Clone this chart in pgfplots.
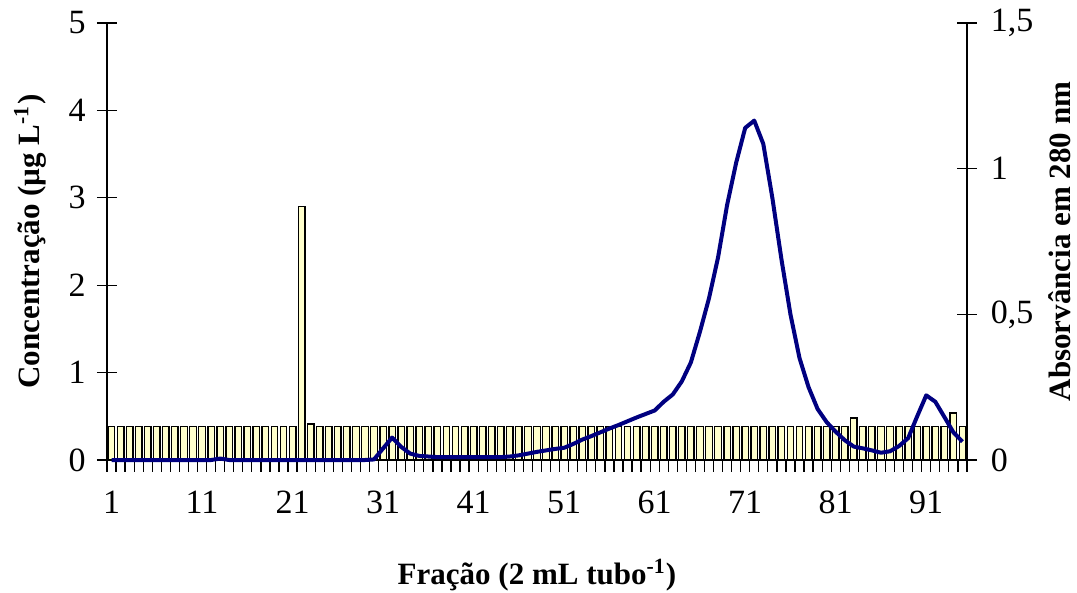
\documentclass[border=0pt]{standalone}
\usepackage{fontspec}
\setmainfont{Liberation Serif}
\usepackage{pgfplots}
\usepackage{pgfplotstable}
\pgfplotsset{compat=1.18}
\definecolor{barfill}{RGB}{255,255,204}
\definecolor{navyline}{RGB}{0,0,128}

\pgfplotstableread{
x c a
1 0.38 0
2 0.38 0
3 0.38 0
4 0.38 0
5 0.38 0
6 0.38 0
7 0.38 0
8 0.38 0
9 0.38 0
10 0.38 0
11 0.38 0
12 0.38 0
13 0.38 0.005
14 0.38 0
15 0.38 0
16 0.38 0
17 0.38 0
18 0.38 0
19 0.38 0
20 0.38 0
21 0.38 0
22 2.9 0
23 0.41 0
24 0.38 0
25 0.38 0
26 0.38 0
27 0.38 0
28 0.38 0
29 0.38 0
30 0.38 0.002
31 0.38 0.04
32 0.38 0.077
33 0.38 0.045
34 0.38 0.022
35 0.38 0.014
36 0.38 0.012
37 0.38 0.01
38 0.38 0.01
39 0.38 0.01
40 0.38 0.01
41 0.38 0.01
42 0.38 0.01
43 0.38 0.01
44 0.38 0.01
45 0.38 0.012
46 0.38 0.016
47 0.38 0.022
48 0.38 0.028
49 0.38 0.033
50 0.38 0.038
51 0.38 0.042
52 0.38 0.055
53 0.38 0.07
54 0.38 0.082
55 0.38 0.095
56 0.38 0.108
57 0.38 0.12
58 0.38 0.133
59 0.38 0.146
60 0.38 0.158
61 0.38 0.17
62 0.38 0.2
63 0.38 0.225
64 0.38 0.27
65 0.38 0.335
66 0.38 0.44
67 0.38 0.555
68 0.38 0.695
69 0.38 0.875
70 0.38 1.02
71 0.38 1.14
72 0.38 1.165
73 0.38 1.085
74 0.38 0.9
75 0.38 0.69
76 0.38 0.5
77 0.38 0.35
78 0.38 0.25
79 0.38 0.175
80 0.38 0.13
81 0.38 0.097
82 0.38 0.068
83 0.48 0.046
84 0.38 0.04
85 0.38 0.033
86 0.38 0.025
87 0.38 0.03
88 0.38 0.048
89 0.38 0.075
90 0.38 0.15
91 0.38 0.222
92 0.38 0.2
93 0.38 0.148
94 0.54 0.095
95 0.38 0.063
}\data

\begin{document}
\begin{tikzpicture}
\useasboundingbox (-42.8pt,-52.8pt) rectangle (388pt,184pt);
\begin{axis}[
  scale only axis, width=344pt, height=174.8pt,
  xmin=0.5, xmax=95.5, ymin=0, ymax=5,
  axis y line*=left, axis x line*=bottom,
  axis line style={black, line width=0.5pt},
  xtick={1,11,...,91},
  minor xtick={0.5,1.5,...,95.5},
  ytick={0,1,2,3,4,5},
  tick align=center,
  major tick length=8pt,
  minor tick length=4.6pt,
  major x tick style={draw=none},
  minor x tick style={black, line width=0.5pt, yshift=-2.3pt},
  major y tick style={black, line width=0.5pt},
  /pgf/number format/assume math mode=true,
  tick label style={font=\fontsize{13.6}{15}\selectfont},
  x tick label style={yshift=-5pt},
  y tick label style={xshift=-1pt},
  ylabel={\textbf{Concentração (µg L\textsuperscript{-1})}},
  ylabel style={at={(axis description cs:-0.0895,0.5)}, anchor=center, rotate=0, font=\fontsize{12.4}{14}\selectfont},
  xlabel={\textbf{Fração (2 mL tubo\textsuperscript{-1})}},
  xlabel style={at={(axis description cs:0.5,-0.263)}, anchor=center, font=\fontsize{12.4}{14}\selectfont},
]
\addplot[ybar, bar width=0.72, fill=barfill, draw=black, line width=0.55pt] table[x=x, y=c]{\data};
\end{axis}
\begin{axis}[
  scale only axis, width=344pt, height=174.8pt,
  xmin=0.5, xmax=95.5, ymin=0, ymax=1.5,
  axis y line*=right, axis x line=none,
  axis line style={black, line width=0.5pt},
  ytick={0,0.5,1,1.5},
  tick align=center,
  major tick length=8pt,
  major y tick style={black, line width=0.5pt},
  /pgf/number format/assume math mode=true,
  /pgf/number format/use comma,
  tick label style={font=\fontsize{13.6}{15}\selectfont},
  y tick label style={xshift=2pt},
  clip=false,
  ylabel={\textbf{Absorvância em 280 nm}},
  ylabel style={at={(axis description cs:1.108,0.5)}, anchor=center, rotate=0, font=\fontsize{12.4}{14}\selectfont},
]
\addplot[navyline, line width=1.6pt, mark=none, line join=round] table[x=x, y=a]{\data};
\end{axis}
\end{tikzpicture}
\end{document}
